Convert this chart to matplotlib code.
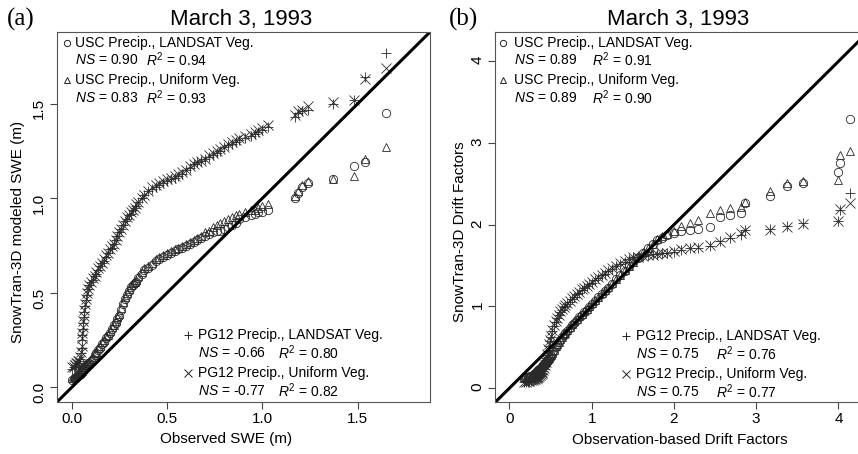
import numpy as np
import matplotlib
matplotlib.use('Agg')
import matplotlib.pyplot as plt

plt.rcParams['font.family'] = ['Liberation Sans', 'DejaVu Sans']
plt.rcParams['mathtext.fontset'] = 'custom'
plt.rcParams['mathtext.rm'] = 'Liberation Sans'
plt.rcParams['mathtext.it'] = 'Liberation Sans:italic'

# ---- panel (a): observed vs modeled SWE quantiles (m) ----
obs_a = [0.000, 0.010, 0.015, 0.020, 0.025, 0.030, 0.035, 0.040, 0.045, 0.050,
         0.052, 0.054, 0.056, 0.058, 0.060, 0.063, 0.066, 0.070, 0.075, 0.080,
         0.085, 0.09, 0.10, 0.11, 0.12, 0.13, 0.14, 0.15, 0.16, 0.17,
         0.18, 0.19, 0.20, 0.21, 0.22, 0.23, 0.24, 0.25, 0.26, 0.27,
         0.28, 0.29, 0.30, 0.31, 0.32, 0.33, 0.34, 0.35, 0.37, 0.38,
         0.40, 0.42, 0.44, 0.46, 0.48, 0.50, 0.52, 0.54, 0.56, 0.58,
         0.60, 0.62, 0.64, 0.66, 0.68, 0.70, 0.72, 0.74, 0.76, 0.78,
         0.80, 0.82, 0.84, 0.86, 0.88, 0.91, 0.94, 0.96, 0.98, 1.00,
         1.03, 1.17, 1.19, 1.21, 1.24, 1.37, 1.48, 1.54, 1.65]
usc_land_a = [0.04, 0.045, 0.05, 0.05, 0.055, 0.06, 0.06, 0.065, 0.07, 0.075,
              0.08, 0.085, 0.09, 0.095, 0.10, 0.10, 0.11, 0.11, 0.12, 0.12,
              0.13, 0.13, 0.14, 0.15, 0.17, 0.18, 0.20, 0.21, 0.23, 0.24,
              0.26, 0.27, 0.29, 0.31, 0.33, 0.34, 0.36, 0.38, 0.41, 0.44,
              0.47, 0.49, 0.51, 0.53, 0.54, 0.55, 0.56, 0.58, 0.60, 0.62,
              0.63, 0.65, 0.67, 0.68, 0.69, 0.70, 0.71, 0.72, 0.73, 0.74,
              0.75, 0.76, 0.77, 0.78, 0.79, 0.80, 0.81, 0.82, 0.83, 0.83,
              0.84, 0.85, 0.86, 0.87, 0.89, 0.90, 0.91, 0.92, 0.93, 0.93,
              0.94, 1.00, 1.03, 1.06, 1.08, 1.10, 1.17, 1.19, 1.45]
usc_unif_a = [0.05, 0.05, 0.055, 0.06, 0.06, 0.065, 0.07, 0.07, 0.075, 0.08,
              0.085, 0.09, 0.095, 0.10, 0.10, 0.11, 0.11, 0.12, 0.12, 0.13,
              0.13, 0.14, 0.15, 0.16, 0.18, 0.19, 0.21, 0.22, 0.24, 0.25,
              0.27, 0.28, 0.30, 0.32, 0.33, 0.35, 0.37, 0.39, 0.42, 0.45,
              0.48, 0.50, 0.52, 0.54, 0.55, 0.56, 0.57, 0.59, 0.61, 0.63,
              0.64, 0.66, 0.68, 0.69, 0.70, 0.71, 0.72, 0.73, 0.74, 0.75,
              0.76, 0.77, 0.78, 0.79, 0.80, 0.82, 0.83, 0.85, 0.86, 0.87,
              0.88, 0.89, 0.90, 0.91, 0.92, 0.93, 0.94, 0.94, 0.95, 0.96,
              0.97, 1.01, 1.04, 1.07, 1.09, 1.10, 1.12, 1.21, 1.27]
pg_land_a = [0.10, 0.11, 0.11, 0.12, 0.12, 0.13, 0.13, 0.14, 0.15, 0.18,
             0.21, 0.25, 0.28, 0.31, 0.34, 0.37, 0.40, 0.43, 0.46, 0.49,
             0.52, 0.54, 0.56, 0.57, 0.59, 0.60, 0.62, 0.64, 0.66, 0.67,
             0.69, 0.71, 0.73, 0.74, 0.76, 0.78, 0.80, 0.82, 0.84, 0.86,
             0.88, 0.89, 0.91, 0.92, 0.94, 0.95, 0.96, 0.98, 1.00, 1.02,
             1.04, 1.05, 1.06, 1.07, 1.08, 1.09, 1.10, 1.11, 1.12, 1.13,
             1.15, 1.16, 1.18, 1.19, 1.20, 1.21, 1.22, 1.23, 1.24, 1.25,
             1.27, 1.28, 1.29, 1.30, 1.31, 1.32, 1.33, 1.34, 1.35, 1.36,
             1.38, 1.43, 1.45, 1.46, 1.47, 1.50, 1.52, 1.64, 1.77]
pg_unif_a = [0.11, 0.11, 0.12, 0.12, 0.13, 0.13, 0.14, 0.14, 0.16, 0.19,
             0.22, 0.26, 0.29, 0.32, 0.35, 0.38, 0.41, 0.44, 0.47, 0.50,
             0.52, 0.54, 0.56, 0.58, 0.59, 0.61, 0.63, 0.64, 0.66, 0.68,
             0.70, 0.71, 0.73, 0.75, 0.76, 0.78, 0.80, 0.82, 0.84, 0.86,
             0.88, 0.90, 0.91, 0.93, 0.94, 0.95, 0.97, 0.98, 1.00, 1.02,
             1.04, 1.06, 1.07, 1.08, 1.09, 1.10, 1.11, 1.12, 1.13, 1.14,
             1.15, 1.17, 1.18, 1.19, 1.20, 1.21, 1.23, 1.24, 1.25, 1.26,
             1.27, 1.29, 1.30, 1.31, 1.32, 1.33, 1.34, 1.35, 1.36, 1.37,
             1.39, 1.44, 1.46, 1.47, 1.49, 1.51, 1.52, 1.63, 1.69]

# ---- panel (b): observed vs modeled drift factors ----
obs_b = [0.18, 0.20, 0.22, 0.24, 0.26, 0.28, 0.30, 0.31, 0.32, 0.33,
         0.34, 0.35, 0.36, 0.37, 0.38, 0.39, 0.40, 0.41, 0.42, 0.43,
         0.44, 0.45, 0.46, 0.47, 0.48, 0.49, 0.50, 0.52, 0.54, 0.56,
         0.58, 0.60, 0.62, 0.64, 0.66, 0.68, 0.70, 0.73, 0.76, 0.79,
         0.82, 0.85, 0.88, 0.91, 0.94, 0.97, 1.00, 1.04, 1.08, 1.12,
         1.16, 1.20, 1.25, 1.30, 1.35, 1.40, 1.45, 1.50, 1.56, 1.62,
         1.68, 1.74, 1.80, 1.86, 1.92, 2.00, 2.09, 2.19, 2.29, 2.44,
         2.56, 2.68, 2.82, 2.86, 3.17, 3.37, 3.57, 4.00, 4.02, 4.14]
usc_land_b = [0.12, 0.13, 0.14, 0.14, 0.15, 0.16, 0.17, 0.18, 0.19, 0.20,
              0.21, 0.22, 0.23, 0.24, 0.25, 0.26, 0.27, 0.28, 0.29, 0.30,
              0.31, 0.32, 0.33, 0.35, 0.36, 0.38, 0.39, 0.42, 0.46, 0.50,
              0.53, 0.56, 0.59, 0.62, 0.65, 0.67, 0.70, 0.73, 0.77, 0.80,
              0.84, 0.87, 0.90, 0.93, 0.96, 0.99, 1.03, 1.07, 1.11, 1.15,
              1.19, 1.23, 1.28, 1.33, 1.38, 1.43, 1.49, 1.54, 1.59, 1.65,
              1.71, 1.76, 1.81, 1.84, 1.87, 1.90, 1.92, 1.94, 1.95, 1.97,
              2.10, 2.12, 2.15, 2.27, 2.35, 2.47, 2.51, 2.65, 2.76, 3.30]
usc_unif_b = [0.13, 0.14, 0.15, 0.15, 0.16, 0.17, 0.18, 0.19, 0.20, 0.21,
              0.22, 0.23, 0.24, 0.25, 0.26, 0.27, 0.28, 0.29, 0.30, 0.31,
              0.32, 0.33, 0.34, 0.36, 0.37, 0.39, 0.40, 0.43, 0.47, 0.51,
              0.54, 0.57, 0.60, 0.63, 0.66, 0.68, 0.71, 0.75, 0.78, 0.82,
              0.85, 0.88, 0.91, 0.94, 0.97, 1.01, 1.04, 1.08, 1.12, 1.16,
              1.20, 1.24, 1.29, 1.34, 1.39, 1.45, 1.50, 1.55, 1.61, 1.67,
              1.72, 1.77, 1.82, 1.86, 1.89, 1.92, 1.98, 2.02, 2.06, 2.14,
              2.18, 2.20, 2.22, 2.28, 2.41, 2.51, 2.53, 2.55, 2.86, 2.90]
pg_land_b = [0.07, 0.08, 0.08, 0.09, 0.09, 0.10, 0.10, 0.11, 0.11, 0.12,
             0.12, 0.13, 0.14, 0.15, 0.16, 0.17, 0.19, 0.21, 0.24, 0.27,
             0.30, 0.34, 0.40, 0.46, 0.52, 0.58, 0.63, 0.70, 0.76, 0.81,
             0.86, 0.90, 0.93, 0.96, 0.99, 1.01, 1.03, 1.06, 1.09, 1.12,
             1.15, 1.17, 1.20, 1.22, 1.25, 1.27, 1.29, 1.32, 1.35, 1.38,
             1.40, 1.43, 1.46, 1.49, 1.52, 1.55, 1.58, 1.60, 1.61, 1.62,
             1.63, 1.64, 1.64, 1.65, 1.66, 1.67, 1.69, 1.71, 1.72, 1.74,
             1.80, 1.84, 1.88, 1.94, 1.95, 1.98, 2.02, 2.04, 2.18, 2.39]
pg_unif_b = [0.08, 0.08, 0.09, 0.09, 0.10, 0.10, 0.11, 0.11, 0.12, 0.12,
             0.13, 0.14, 0.15, 0.16, 0.17, 0.18, 0.20, 0.22, 0.25, 0.28,
             0.32, 0.36, 0.42, 0.48, 0.54, 0.59, 0.64, 0.71, 0.77, 0.82,
             0.86, 0.90, 0.94, 0.97, 0.99, 1.02, 1.04, 1.07, 1.10, 1.13,
             1.15, 1.18, 1.21, 1.23, 1.25, 1.28, 1.30, 1.33, 1.36, 1.39,
             1.41, 1.44, 1.47, 1.50, 1.53, 1.56, 1.58, 1.60, 1.61, 1.62,
             1.63, 1.63, 1.64, 1.65, 1.66, 1.68, 1.70, 1.71, 1.73, 1.75,
             1.79, 1.85, 1.90, 1.93, 1.94, 1.97, 2.01, 2.05, 2.19, 2.27]

labels = ['USC Precip., LANDSAT Veg.', 'USC Precip., Uniform Veg.',
          'PG12 Precip., LANDSAT Veg.', 'PG12 Precip., Uniform Veg.']
ns_a = ['0.90', '0.83', '-0.66', '-0.77']
r2_a = ['0.94', '0.93', '0.80', '0.82']
ns_b = ['0.89', '0.89', '0.75', '0.75']
r2_b = ['0.91', '0.90', '0.76', '0.77']
markers = ['o', '^', '+', 'x']

W, H = 858, 454
fig = plt.figure(figsize=(W / 100, H / 100), dpi=100)


def px_axes(l, t, r, b):
    return fig.add_axes([l / W, 1 - b / H, (r - l) / W, (b - t) / H])


def ftext(x, y, s, **kw):
    fig.text(x / W, 1 - y / H, s, **kw)


def fmark(ax, x, y, m):
    # legend symbol, placed in figure pixels
    ax.plot([x / W], [1 - y / H], marker=m, ls='none',
            ms=4.5 if m in 'o^' else 6, mfc='none',
            mec='#222222', mew=0.7, transform=fig.transFigure, clip_on=False)


def panel(ax, obs, series, lim, ticks, ticklabels):
    for ys, m in zip(series, markers):
        ax.plot(obs, ys, ls='none', marker=m, ms=6 if m in 'o^' else 6.5,
                mfc='none', mec='#2a2a2a', mew=0.6)
    ax.axline((0, 0), slope=1, color='black', lw=2.2)
    ax.set_xlim(lim)
    ax.set_ylim(lim)
    ax.set_xticks(ticks)
    ax.set_xticklabels(ticklabels)
    ax.set_yticks(ticks)
    ax.set_yticklabels(ticklabels)
    ax.tick_params(direction='out', length=5, width=0.8, labelsize=11,
                   color='#444444', pad=2.5)
    ax.tick_params(axis='y', labelrotation=90, pad=3)
    for sp in ax.spines.values():
        sp.set_linewidth(0.8)
        sp.set_color('#555555')


ax_a = px_axes(57, 32, 430, 402)
panel(ax_a, obs_a, [usc_land_a, usc_unif_a, pg_land_a, pg_unif_a],
      (-0.077, 1.88), [0, 0.5, 1.0, 1.5], ['0.0', '0.5', '1.0', '1.5'])

ax_b = px_axes(495.5, 32, 868, 402)
panel(ax_b, obs_b, [usc_land_b, usc_unif_b, pg_land_b, pg_unif_b],
      (-0.17, 4.36), [0, 1, 2, 3, 4], ['0', '1', '2', '3', '4'])

# titles, panel letters, axis labels
ftext(241, 20, 'March 3, 1993', fontsize=16, ha='center', va='center')
ftext(678, 20, 'March 3, 1993', fontsize=16, ha='center', va='center')
ftext(21, 19, '(a)', fontsize=18, ha='center', va='center', family='Liberation Serif')
ftext(464, 19, '(b)', fontsize=18, ha='center', va='center', family='Liberation Serif')
ftext(226, 439, 'Observed SWE (m)', fontsize=11, ha='center', va='center')
ftext(680, 440, 'Observation-based Drift Factors', fontsize=11, ha='center', va='center')
ftext(18, 232, 'SnowTran-3D modeled SWE (m)', fontsize=11, ha='center', va='center', rotation=90)
ftext(460, 232, 'SnowTran-3D Drift Factors', fontsize=11, ha='center', va='center', rotation=90)


def stat_block(ax, idx, ns, r2, mx, tx, rx, ys):
    for i, (y1, y2) in zip(idx, ys):
        fmark(ax, mx, y1, markers[i])
        ftext(tx, y1, labels[i], fontsize=10, va='center')
        ftext(tx, y2, '$NS$ = ' + ns[i], fontsize=10, va='center')
        ftext(rx, y2, '$R^2$ = ' + r2[i], fontsize=10, va='center')


stat_block(ax_a, [0, 1], ns_a, r2_a, 67, 75, 146, [(43, 60), (80, 98)])
stat_block(ax_a, [2, 3], ns_a, r2_a, 188, 198, 278, [(335, 353), (373, 391)])
stat_block(ax_b, [0, 1], ns_b, r2_b, 503, 514, 592, [(43, 60), (80, 98)])
stat_block(ax_b, [2, 3], ns_b, r2_b, 626, 636, 716, [(336, 354), (374, 392)])

fig.savefig('out.png', dpi=100)
